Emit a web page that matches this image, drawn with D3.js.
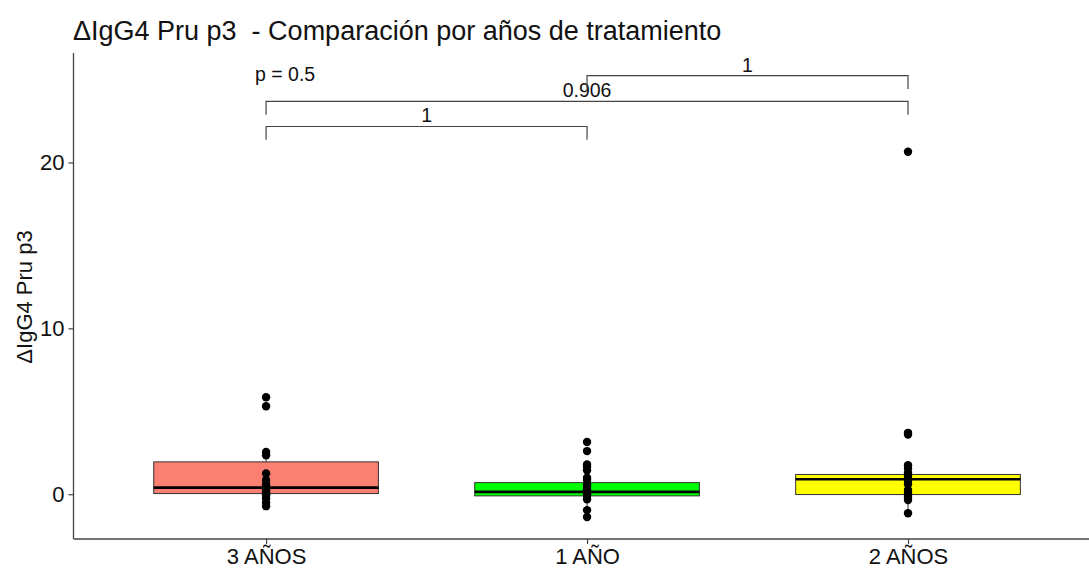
<!DOCTYPE html>
<html>
<head>
<meta charset="utf-8">
<script src="https://cdn.jsdelivr.net/npm/d3@7"></script>
<style>
  body { margin: 0; background: #fff; }
  svg { display: block; font-family: "Liberation Sans", Arial, sans-serif; }
</style>
</head>
<body>
<svg id="chart" width="1089" height="571"></svg>
<script>
// Treatment groups, in plotting order
const categories = ["3 AÑOS", "1 AÑO", "2 AÑOS"];
const fills = ["#FA8072", "#00FF00", "#FFFF00"];

// Box statistics per group: lower whisker, Q1, median, Q3, upper whisker
const whiskerLow  = [-0.72, -0.96, -1.15];
const q1          = [0.04, -0.10, -0.02];
const median      = [0.40, 0.14, 0.90];
const q3          = [1.95, 0.70, 1.19];
const whiskerHigh = [2.55, 1.79, 1.75];

// Individual observations per group
const pts3 = [5.85, 5.30, 2.55, 2.35, 1.25, 0.85, 0.60, 0.45, 0.30, 0.20, 0.10, 0.00, -0.10, -0.25, -0.50, -0.72];
const pts1 = [3.15, 2.60, 1.79, 1.65, 1.45, 1.00, 0.85, 0.60, 0.45, 0.30, 0.20, 0.10, 0.00, -0.10, -0.30, -0.96, -1.37];
const pts2 = [20.65, 3.70, 3.60, 1.75, 1.55, 1.30, 1.10, 0.95, 0.80, 0.60, 0.25, 0.10, -0.05, -0.20, -0.35, -1.15];
const points = [pts3, pts1, pts2];

// Pairwise comparisons: group indices, bracket height (data units), p label
const pairFrom  = [0, 0, 1];
const pairTo    = [1, 2, 2];
const pairY     = [22.17, 23.68, 25.23];
const pairLabel = ["1", "0.906", "1"];
const globalLabel = "p = 0.5";
const globalY = 25.3;

const yTicks = [0, 10, 20];
const yDomain = [-2.7, 26.6];

(function draw() {
  const svg = d3.select("#chart");
  const mLeft = 73.5, mRight = 1100.6, mTop = 53, mBottom = 539;

  const x = d3.scalePoint().domain(categories).range([mLeft, mRight]).padding(0.6);
  const step = x.step();
  const y = d3.scaleLinear().domain(yDomain).range([mBottom, mTop]);
  const boxW = step * 0.7;

  // Title
  svg.append("text")
    .attr("x", 73).attr("y", 40)
    .attr("font-size", 27).attr("fill", "#111")
    .style("white-space", "pre")
    .text("ΔIgG4 Pru p3  - Comparación por años de tratamiento");

  // Y axis title
  svg.append("text")
    .attr("transform", `translate(32,${(mTop + mBottom) / 2 + 1}) rotate(-90)`)
    .attr("text-anchor", "middle")
    .attr("font-size", 22).attr("fill", "#111")
    .text("ΔIgG4 Pru p3");

  // Axes
  const yAxis = svg.append("g").attr("transform", `translate(${mLeft},0)`)
    .call(d3.axisLeft(y).tickValues(yTicks).tickSize(5).tickPadding(4));
  const xAxis = svg.append("g").attr("transform", `translate(0,${mBottom})`)
    .call(d3.axisBottom(x).tickSize(5).tickPadding(4));
  [yAxis, xAxis].forEach(g => {
    g.select(".domain").remove();
    g.selectAll("line").attr("stroke", "#444").attr("stroke-width", 1.2);
    g.selectAll("text").attr("font-size", 22).attr("fill", "#111")
      .attr("font-family", "'Liberation Sans', Arial, sans-serif");
  });
  svg.append("line").attr("x1", mLeft).attr("x2", mLeft).attr("y1", mTop).attr("y2", mBottom)
    .attr("stroke", "#444").attr("stroke-width", 1.3);
  svg.append("line").attr("x1", mLeft).attr("x2", mRight).attr("y1", mBottom).attr("y2", mBottom)
    .attr("stroke", "#444").attr("stroke-width", 1.3);

  // Boxplots
  const boxes = svg.append("g");
  categories.forEach((c, i) => {
    const cx = x(c);
    const g = boxes.append("g");
    g.append("line").attr("x1", cx).attr("x2", cx)
      .attr("y1", y(whiskerHigh[i])).attr("y2", y(q3[i])).attr("stroke", "#333");
    g.append("line").attr("x1", cx).attr("x2", cx)
      .attr("y1", y(q1[i])).attr("y2", y(whiskerLow[i])).attr("stroke", "#333");
    g.append("rect")
      .attr("x", cx - boxW / 2).attr("width", boxW)
      .attr("y", y(q3[i])).attr("height", y(q1[i]) - y(q3[i]))
      .attr("fill", fills[i]).attr("stroke", "#333").attr("stroke-width", 1);
    g.append("line").attr("x1", cx - boxW / 2).attr("x2", cx + boxW / 2)
      .attr("y1", y(median[i])).attr("y2", y(median[i]))
      .attr("stroke", "#000").attr("stroke-width", 2.6);
  });

  // Observations
  categories.forEach((c, i) => {
    svg.append("g").selectAll("circle").data(points[i]).join("circle")
      .attr("cx", x(c)).attr("cy", d => y(d)).attr("r", 4.2).attr("fill", "#000");
  });

  // Comparison brackets
  const tip = 0.8;
  const br = svg.append("g");
  pairFrom.forEach((a, k) => {
    const x1 = x(categories[a]), x2 = x(categories[pairTo[k]]);
    const yy = y(pairY[k]), yt = y(pairY[k] - tip);
    br.append("path")
      .attr("d", `M${x1},${yt}V${yy}H${x2}V${yt}`)
      .attr("fill", "none").attr("stroke", "#444").attr("stroke-width", 1.2);
    br.append("text")
      .attr("x", (x1 + x2) / 2).attr("y", yy - 4)
      .attr("text-anchor", "middle").attr("font-size", 19.5).attr("fill", "#111")
      .text(pairLabel[k]);
  });
  svg.append("text")
    .attr("x", 255).attr("y", y(globalY) + 6)
    .attr("font-size", 19.5).attr("fill", "#111")
    .text(globalLabel);
})();
</script>
</body>
</html>
